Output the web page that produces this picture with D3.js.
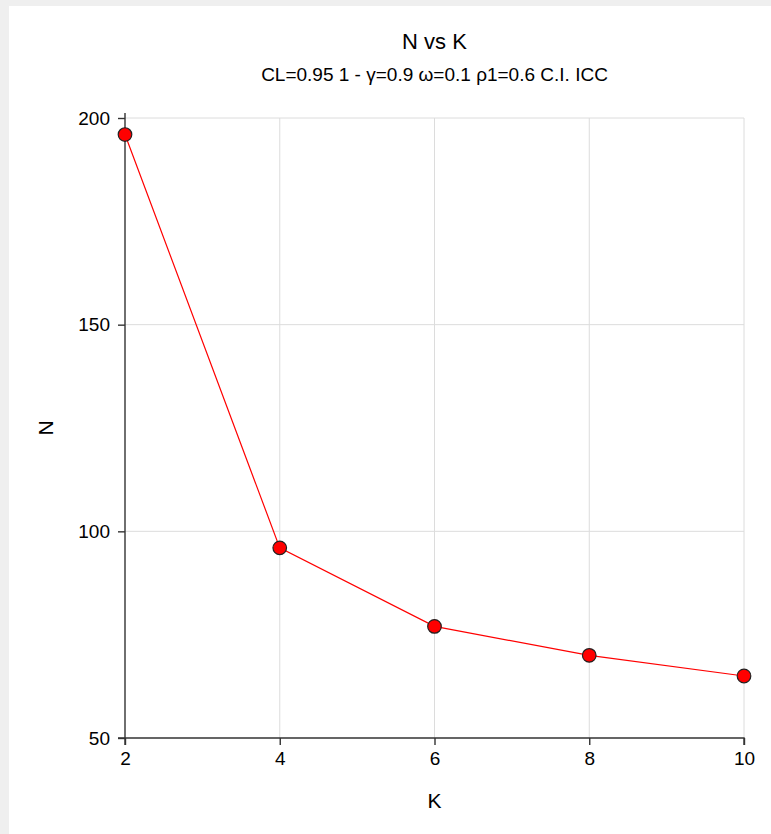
<!DOCTYPE html>
<html>
<head>
<meta charset="utf-8">
<script src="https://cdn.jsdelivr.net/npm/d3@7"></script>
<style>
  html, body { margin: 0; padding: 0; background: #efefef; }
  svg { display: block; font-family: Arial, "Liberation Sans", sans-serif; }
</style>
</head>
<body>
<div id="chart"></div>
<script>
"use strict"

const kValues = [2, 4, 6, 8, 10];
const nValues = [196, 96, 77, 70, 65];
const xTicks = [2, 4, 6, 8, 10];
const yTicks = [50, 100, 150, 200];

const titleText = "N vs K";
const subtitleText = "CL=0.95 1 - γ=0.9 ω=0.1 ρ1=0.6 C.I. ICC";

let W = 771, H = 834;
let margin = {top: 118, right: 27, bottom: 96, left: 125};
let width = W - margin.left - margin.right,
    height = H - margin.top - margin.bottom;

let root = d3.select("#chart")
  .append("svg")
  .attr("width", W)
  .attr("height", H);

// white panel over the gray page
root.append("rect")
  .attr("x", 9).attr("y", 6)
  .attr("width", W - 9).attr("height", H - 6)
  .attr("fill", "#ffffff");

let svg = root.append("g")
  .attr("transform", "translate(" + margin.left + "," + margin.top + ")");

let x = d3.scaleLinear().domain([2, 10]).range([0, width]);
let y = d3.scaleLinear().domain([50, 200]).range([height, 0]);

// grid
svg.append("g")
  .selectAll("line")
  .data(xTicks.slice(1))
  .join("line")
  .attr("x1", d => x(d)).attr("x2", d => x(d))
  .attr("y1", 0).attr("y2", height)
  .attr("stroke", "#dcdcdc").attr("stroke-width", 1);

svg.append("g")
  .selectAll("line")
  .data(yTicks.slice(1))
  .join("line")
  .attr("x1", 0).attr("x2", width)
  .attr("y1", d => y(d)).attr("y2", d => y(d))
  .attr("stroke", "#dcdcdc").attr("stroke-width", 1);

// axes
let xAxis = svg.append("g")
  .attr("transform", "translate(0," + height + ")")
  .call(d3.axisBottom(x).tickValues(xTicks).tickSize(7).tickSizeOuter(0).tickPadding(7));

let yAxis = svg.append("g")
  .call(d3.axisLeft(y).tickValues(yTicks).tickSize(7).tickSizeOuter(0).tickPadding(8));

[xAxis, yAxis].forEach(a => {
  a.selectAll("path.domain").attr("stroke", "#333").attr("stroke-width", 1.4);
  a.selectAll(".tick line").attr("stroke", "#333").attr("stroke-width", 1.4);
  a.selectAll(".tick text")
    .style("font-size", "19px")
    .style("font-family", "Arial, 'Liberation Sans', sans-serif")
    .attr("fill", "#000");
});

// extend domains past the corner like the reference
xAxis.select("path.domain").attr("d", "M-7,0H" + width + "V7");
yAxis.select("path.domain").attr("d", "M0,-5V" + (height + 7));

// line
let line = d3.line()
  .x((d, i) => x(kValues[i]))
  .y(d => y(d));

svg.append("path")
  .datum(nValues)
  .attr("fill", "none")
  .attr("stroke", "#ff0000")
  .attr("stroke-width", 1.2)
  .attr("d", line);

svg.append("g")
  .selectAll("circle")
  .data(nValues)
  .join("circle")
  .attr("cx", (d, i) => x(kValues[i]))
  .attr("cy", d => y(d))
  .attr("r", 6.8)
  .attr("fill", "#ff0000")
  .attr("stroke", "#222")
  .attr("stroke-width", 1.2);

// titles
root.append("text")
  .attr("x", margin.left + width / 2)
  .attr("y", 49)
  .attr("text-anchor", "middle")
  .style("font-size", "22px")
  .text(titleText);

root.append("text")
  .attr("x", margin.left + width / 2)
  .attr("y", 81)
  .attr("text-anchor", "middle")
  .style("font-size", "19px")
  .text(subtitleText);

root.append("text")
  .attr("x", margin.left + width / 2)
  .attr("y", 808)
  .attr("text-anchor", "middle")
  .style("font-size", "21px")
  .text("K");

root.append("text")
  .attr("transform", "translate(53," + (margin.top + height / 2) + ") rotate(-90)")
  .attr("text-anchor", "middle")
  .style("font-size", "21px")
  .text("N");
</script>
</body>
</html>
